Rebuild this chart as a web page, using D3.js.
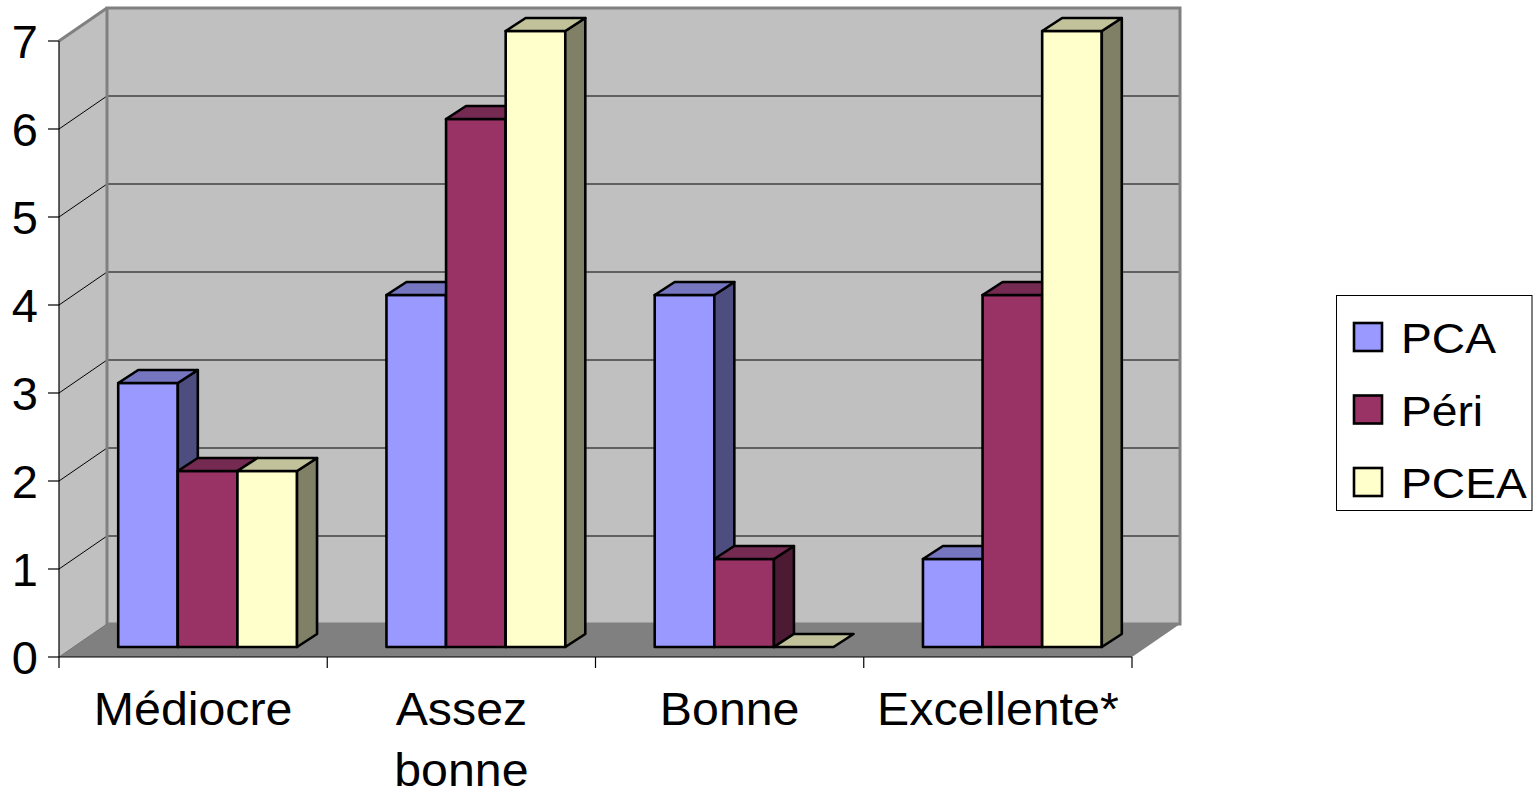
<!DOCTYPE html>
<html>
<head>
<meta charset="utf-8">
<script src="https://cdn.jsdelivr.net/npm/d3@7"></script>
<style>
  html, body { margin: 0; padding: 0; background: #ffffff; }
  svg { display: block; font-family: "Liberation Sans", Arial, sans-serif; }
</style>
</head>
<body>
<svg id="chart" width="1533" height="790"></svg>
<script>
// Survey results per rating category
const categories = ["Médiocre", "Assez bonne", "Bonne", "Excellente*"];
const seriesNames = ["PCA", "Péri", "PCEA"];
const pcaValues = [3, 4, 4, 1];
const periValues = [2, 6, 1, 4];
const pceaValues = [2, 7, 0, 7];
const yTickValues = [0, 1, 2, 3, 4, 5, 6, 7];

// Face colours for each series: front, side, top
const faceColors = {
  "PCA":  { front: "#9999FF", side: "#4D4D7F", top: "#7575C0" },
  "Péri": { front: "#993366", side: "#4D1A33", top: "#752A52" },
  "PCEA": { front: "#FFFFCC", side: "#808066", top: "#C2C29A" }
};

const seriesValues = { "PCA": pcaValues, "Péri": periValues, "PCEA": pceaValues };

const svg = d3.select("#chart");

// Front plane of the 3D box
const plot = { left: 59, right: 1132, bottom: 657, top: 41 };
// Oblique offset from the front plane to the back wall
const depth = { dx: 48, dy: -33 };
// Bars sit slightly behind the front plane and have their own depth
const barShift = { dx: 14.5, dy: -10 };
const barDepth = { dx: 20, dy: -13 };

const y = d3.scaleLinear().domain([0, 7]).range([plot.bottom, plot.top]);
const x = d3.scaleBand().domain(categories).range([plot.left, plot.right]).padding(0);
const xs = d3.scaleBand().domain(seriesNames).range([0, x.bandwidth()])
  .paddingInner(0).paddingOuter(0.75);

const pts = a => a.map(p => p.join(",")).join(" ");

// Walls and floor
const gWalls = svg.append("g");
// floor
gWalls.append("polygon")
  .attr("points", pts([
    [plot.left, y(0)], [plot.right, y(0)],
    [plot.right + depth.dx, y(0) + depth.dy], [plot.left + depth.dx, y(0) + depth.dy]
  ]))
  .attr("fill", "#808080");
// left side wall
gWalls.append("polygon")
  .attr("points", pts([
    [plot.left, y(0)], [plot.left, y(7)],
    [plot.left + depth.dx, y(7) + depth.dy], [plot.left + depth.dx, y(0) + depth.dy]
  ]))
  .attr("fill", "#C0C0C0");
// back wall
gWalls.append("rect")
  .attr("x", plot.left + depth.dx)
  .attr("y", y(7) + depth.dy)
  .attr("width", plot.right - plot.left)
  .attr("height", y(0) - y(7))
  .attr("fill", "#C0C0C0");

// Gridlines on back and side wall
yTickValues.filter(v => v > 0 && v < 7).forEach(v => {
  gWalls.append("line")
    .attr("x1", plot.left + depth.dx).attr("x2", plot.right + depth.dx)
    .attr("y1", y(v) + depth.dy).attr("y2", y(v) + depth.dy)
    .attr("stroke", "#000").attr("stroke-width", 1);
  gWalls.append("line")
    .attr("x1", plot.left).attr("x2", plot.left + depth.dx)
    .attr("y1", y(v)).attr("y2", y(v) + depth.dy)
    .attr("stroke", "#000").attr("stroke-width", 1);
});

// Back wall border and top edge of the side wall
gWalls.append("rect")
  .attr("x", plot.left + depth.dx)
  .attr("y", y(7) + depth.dy)
  .attr("width", plot.right - plot.left)
  .attr("height", y(0) - y(7))
  .attr("fill", "none")
  .attr("stroke", "#808080").attr("stroke-width", 3);
gWalls.append("line")
  .attr("x1", plot.left).attr("y1", y(7))
  .attr("x2", plot.left + depth.dx).attr("y2", y(7) + depth.dy)
  .attr("stroke", "#808080").attr("stroke-width", 3);
gWalls.append("line")
  .attr("x1", plot.left).attr("y1", y(0))
  .attr("x2", plot.left + depth.dx).attr("y2", y(0) + depth.dy)
  .attr("stroke", "#707070").attr("stroke-width", 1);

// Bars, drawn left to right so neighbours overlap correctly
const gBars = svg.append("g")
  .attr("stroke", "#000").attr("stroke-width", 2.6).attr("stroke-linejoin", "round");

categories.forEach((cat, ci) => {
  seriesNames.forEach(s => {
    const v = seriesValues[s][ci];
    const c = faceColors[s];
    const x0 = x(cat) + xs(s) + barShift.dx;
    const x1 = x0 + xs.bandwidth();
    const yb = y(0) + barShift.dy;
    const yt = y(v) + barShift.dy;
    if (v > 0) {
      gBars.append("polygon")
        .attr("points", pts([[x0, yb], [x1, yb], [x1, yt], [x0, yt]]))
        .attr("fill", c.front);
      gBars.append("polygon")
        .attr("points", pts([[x1, yb], [x1 + barDepth.dx, yb + barDepth.dy],
                             [x1 + barDepth.dx, yt + barDepth.dy], [x1, yt]]))
        .attr("fill", c.side);
    }
    gBars.append("polygon")
      .attr("points", pts([[x0, yt], [x1, yt],
                           [x1 + barDepth.dx, yt + barDepth.dy], [x0 + barDepth.dx, yt + barDepth.dy]]))
      .attr("fill", c.top);
  });
});

// Y axis
const gY = svg.append("g").attr("font-size", 47).attr("fill", "#000");
gY.append("line")
  .attr("x1", plot.left).attr("x2", plot.left)
  .attr("y1", y(7)).attr("y2", y(0))
  .attr("stroke", "#000").attr("stroke-width", 1.2);
yTickValues.forEach(v => {
  gY.append("line")
    .attr("x1", plot.left - 11).attr("x2", plot.left)
    .attr("y1", y(v)).attr("y2", y(v))
    .attr("stroke", "#000").attr("stroke-width", 1.2);
  gY.append("text")
    .attr("x", 38).attr("y", y(v) + 17)
    .attr("text-anchor", "end")
    .text(v);
});

// X axis: floor front edge, ticks and category labels
const gX = svg.append("g");
gX.append("line")
  .attr("x1", plot.left).attr("x2", plot.right)
  .attr("y1", y(0)).attr("y2", y(0))
  .attr("stroke", "#000").attr("stroke-width", 1.2);
const tickXs = categories.map(c => x(c)).concat([plot.right]);
tickXs.forEach(tx => {
  gX.append("line")
    .attr("x1", tx).attr("x2", tx)
    .attr("y1", y(0)).attr("y2", y(0) + 11)
    .attr("stroke", "#000").attr("stroke-width", 1.2);
});
categories.forEach(cat => {
  const cx = x(cat) + x.bandwidth() / 2;
  const words = cat === "Assez bonne" ? cat.split(" ") : [cat];
  words.forEach((w, i) => {
    gX.append("g")
      .attr("transform", `translate(${cx},${725 + i * 61}) scale(1.05,1)`)
      .append("text")
      .attr("text-anchor", "middle")
      .attr("font-size", 46)
      .attr("fill", "#000")
      .text(w);
  });
});

// Legend
const gL = svg.append("g");
gL.append("rect")
  .attr("x", 1336.5).attr("y", 295.5)
  .attr("width", 195.5).attr("height", 215)
  .attr("fill", "#fff").attr("stroke", "#000").attr("stroke-width", 1);
seriesNames.forEach((s, i) => {
  const base = 353 + i * 72.5;
  gL.append("rect")
    .attr("x", 1354).attr("y", base - 30)
    .attr("width", 28).attr("height", 28)
    .attr("fill", faceColors[s].front)
    .attr("stroke", "#000").attr("stroke-width", 2.6);
  gL.append("g")
    .attr("transform", `translate(1401,${base}) scale(1.1,1)`)
    .append("text")
    .attr("font-size", 42)
    .attr("fill", "#000")
    .text(s);
});
</script>
</body>
</html>
